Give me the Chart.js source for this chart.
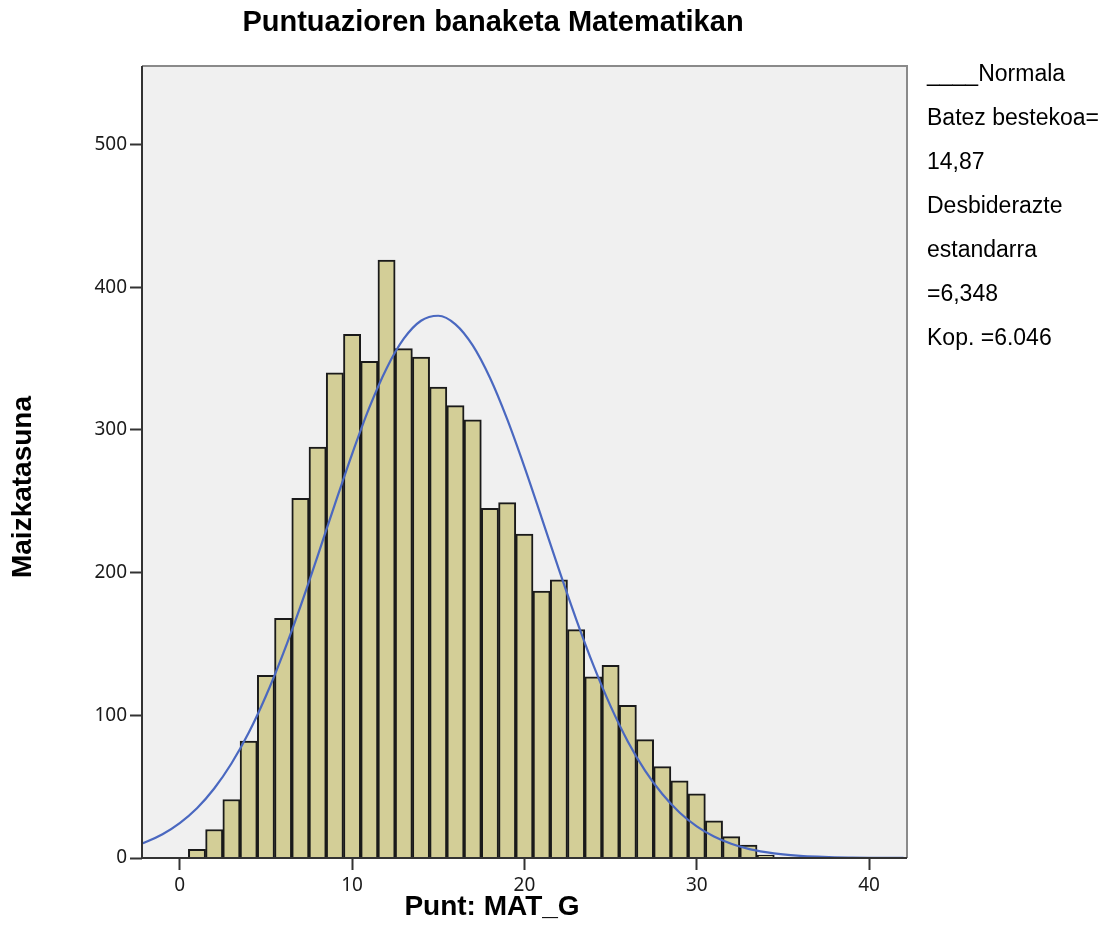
<!DOCTYPE html>
<html>
<head>
<meta charset="utf-8">
<title>Puntuazioren banaketa Matematikan</title>
<script src="https://cdn.jsdelivr.net/npm/chart.js@4.4.1/dist/chart.umd.min.js"></script>
<style>
    html, body { margin: 0; padding: 0; background: #ffffff; }
    #histogramChart { display: block; }
</style>
</head>
<body>
<canvas id="histogramChart" width="1115" height="949"></canvas>
<script>
// Histogram bins (score centres) and their counts
const binCenters = [1, 2, 3, 4, 5, 6, 7, 8, 9, 10, 11, 12, 13, 14, 15, 16, 17,
    18, 19, 20, 21, 22, 23, 24, 25, 26, 27, 28, 29, 30, 31, 32, 33, 34];
const binCounts = [6, 20, 41, 82, 128, 168, 252, 288, 340, 367, 348, 419, 357, 351, 330, 317, 307,
    245, 249, 227, 187, 195, 160, 127, 135, 107, 83, 64, 54, 45, 26, 15, 9, 2];

// Normal curve, sampled at whole scores
const curveX = [-3, -2, -1, 0, 1, 2, 3, 4, 5, 6, 7, 8, 9, 10, 11, 12, 13, 14, 15, 16, 17, 18, 19,
    20, 21, 22, 23, 24, 25, 26, 27, 28, 29, 30, 31, 32, 33, 34, 35, 36, 37, 38, 39, 40, 41, 42];
const curveY = [7.2, 11.1, 16.7, 24.5, 34.9, 48.7, 66.2, 87.7, 113.5, 143.2, 176.2, 211.6, 247.8,
    283.1, 315.6, 343.1, 363.9, 376.5, 380.0, 374.0, 359.2, 336.5, 307.5, 274.1, 238.4, 202.2,
    167.4, 135.1, 106.4, 81.7, 61.2, 44.8, 31.9, 22.2, 15.1, 10.0, 6.4, 4.1, 2.5, 1.5, 0.9, 0.5,
    0.3, 0.15, 0.1, 0.05];

const legendLines = ['____Normala', 'Batez bestekoa=', '14,87', 'Desbiderazte', 'estandarra', '=6,348', 'Kop. =6.046'];

const chartTitle = 'Puntuazioren banaketa Matematikan';
const xTitle = 'Punt: MAT_G';
const yTitle = 'Maizkatasuna';

// Plot background, frame and the texts around it
const spssDecor = {
    id: 'spssDecor',
    beforeDatasetsDraw(chart) {
        const a = chart.chartArea;
        const ctx = chart.ctx;
        ctx.save();
        ctx.fillStyle = '#f0f0f0';
        ctx.fillRect(a.left, a.top, a.right - a.left, a.bottom - a.top);
        ctx.restore();
    },
    afterDatasetsDraw(chart) {
        const a = chart.chartArea;
        const ctx = chart.ctx;
        ctx.save();
        ctx.lineWidth = 2;
        // top and right edges are lighter
        ctx.strokeStyle = '#8a8a8a';
        ctx.beginPath();
        ctx.moveTo(a.left, a.top);
        ctx.lineTo(a.right, a.top);
        ctx.lineTo(a.right, a.bottom);
        ctx.stroke();
        ctx.strokeStyle = '#333333';
        ctx.beginPath();
        ctx.moveTo(a.left, a.top);
        ctx.lineTo(a.left, a.bottom);
        ctx.lineTo(a.right, a.bottom);
        ctx.stroke();
        ctx.restore();
    },
    afterDraw(chart) {
        const ctx = chart.ctx;
        ctx.save();
        ctx.fillStyle = '#000000';
        ctx.textAlign = 'center';
        ctx.textBaseline = 'middle';
        ctx.font = 'bold 29px "Liberation Sans", Arial, sans-serif';
        ctx.fillText(chartTitle, 493, 23);
        ctx.font = 'bold 28px "Liberation Sans", Arial, sans-serif';
        ctx.fillText(xTitle, 492, 907);

        ctx.translate(23, 487);
        ctx.rotate(-Math.PI / 2);
        ctx.fillText(yTitle, 0, 0);
        ctx.setTransform(1, 0, 0, 1, 0, 0);

        ctx.textAlign = 'left';
        ctx.font = '23px "Liberation Sans", Arial, sans-serif';
        legendLines.forEach((line, i) => {
            ctx.fillText(line, 927, 75 + i * 44);
        });
        ctx.restore();
    }
};

function renderHistogram() {
    const ctx = document.getElementById('histogramChart');
    if (typeof Chart === 'undefined') {
        console.error("Chart.js library is not loaded.");
        return;
    }

    const barData = binCenters.map((x, i) => ({ x: x, y: binCounts[i] }));
    const lineData = curveX.map((x, i) => ({ x: x, y: curveY[i] }));

    const tickFont = { family: '"Noto Sans", "DejaVu Sans", sans-serif', size: 19 };

    new Chart(ctx, {
        type: 'bar',
        data: {
            datasets: [
                {
                    type: 'line',
                    label: 'Normala',
                    data: lineData,
                    borderColor: '#4a68c0',
                    borderWidth: 2.2,
                    pointRadius: 0,
                    fill: false,
                    cubicInterpolationMode: 'monotone',
                    order: 0
                },
                {
                    label: 'Maizkatasuna',
                    data: barData,
                    backgroundColor: '#d3ce97',
                    borderColor: '#1a1a1a',
                    borderWidth: 2,
                    barPercentage: 1,
                    categoryPercentage: 1,
                    order: 1
                }
            ]
        },
        options: {
            responsive: false,
            animation: false,
            devicePixelRatio: 1,
            layout: { padding: { top: 66, right: 208, left: 0, bottom: 0 } },
            plugins: {
                legend: { display: false },
                tooltip: { enabled: false },
                title: { display: false }
            },
            scales: {
                x: {
                    type: 'linear',
                    min: -2.19,
                    max: 42.2,
                    offset: false,
                    border: { display: false },
                    grid: {
                        display: true,
                        offset: false,
                        drawOnChartArea: false,
                        tickLength: 12,
                        tickWidth: 2,
                        tickColor: '#333333'
                    },
                    ticks: {
                        stepSize: 10,
                        includeBounds: false,
                        color: '#1a1a1a',
                        font: tickFont,
                        padding: 4,
                        maxRotation: 0
                    },
                    afterFit: function (scale) { scale.height = 91; }
                },
                y: {
                    min: 0,
                    max: 555,
                    border: { display: false },
                    grid: {
                        display: true,
                        drawOnChartArea: false,
                        tickLength: 12,
                        tickWidth: 2,
                        tickColor: '#333333'
                    },
                    ticks: {
                        stepSize: 100,
                        includeBounds: false,
                        color: '#1a1a1a',
                        font: tickFont,
                        padding: 3
                    },
                    afterFit: function (scale) { scale.width = 142; }
                }
            }
        },
        plugins: [spssDecor]
    });
}

window.addEventListener('load', function () {
    renderHistogram();
});
</script>
</body>
</html>
